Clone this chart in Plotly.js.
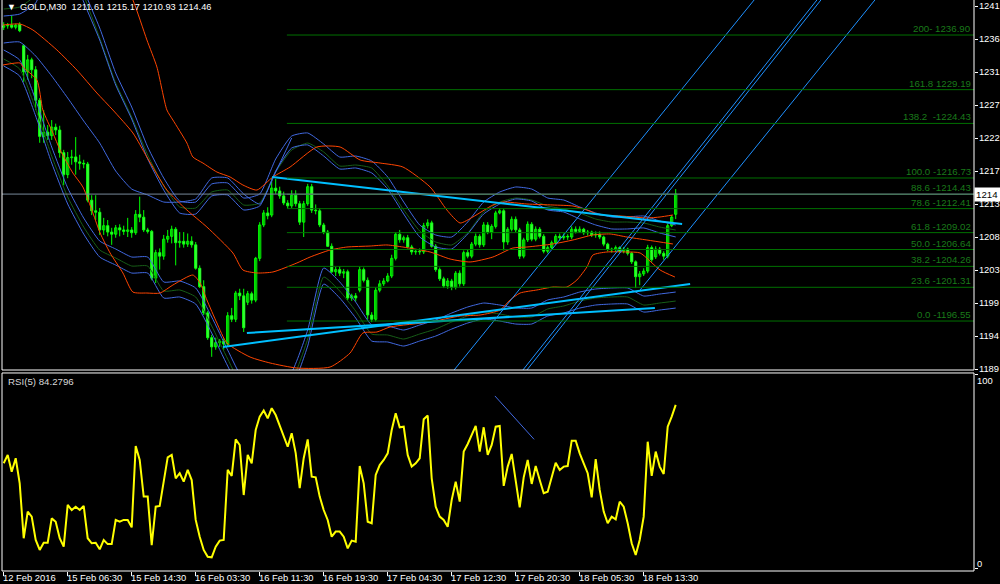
<!DOCTYPE html>
<html><head><meta charset="utf-8">
<script src="https://cdn.plot.ly/plotly-3.0.1.min.js"></script>
<style>html,body{margin:0;padding:0;background:#000;}#chart{width:1000px;height:584px;}</style>
</head><body><div id="chart"></div>
<script>
// ---- Candles (M30 bars, index 0..168) ----
const open=[1238.0,1238.2,1238.3,1238.0,1238.4,1235.4,1231.7,1233.4,1232.0,1227.7,
1222.6,1223.2,1222.7,1223.9,1223.5,1220.3,1217.2,1219.6,1219.7,1219.0,
1218.8,1218.7,1213.6,1212.1,1211.9,1209.4,1210.0,1209.1,1208.8,1209.7,
1209.4,1209.2,1209.4,1209.0,1211.6,1211.2,1209.4,1209.2,1202.6,1206.2,
1205.7,1208.1,1208.5,1209.5,1207.6,1207.8,1207.4,1207.8,1207.3,1204.0,
1201.4,1197.7,1194.2,1192.9,1193.5,1193.7,1193.3,1197.3,1196.8,1200.5,
1200.1,1199.2,1200.4,1199.5,1205.4,1210.1,1211.8,1211.5,1215.3,1214.9,
1214.2,1213.2,1212.8,1214.3,1213.1,1210.5,1213.1,1215.5,1212.2,1212.1,
1210.1,1209.1,1207.1,1203.5,1203.8,1203.3,1203.5,1199.8,1200.1,1200.9,
1203.8,1202.3,1197.4,1196.8,1200.9,1201.8,1202.2,1202.9,1205.4,1208.8,
1208.0,1208.3,1207.0,1206.3,1206.4,1206.3,1210.0,1210.4,1207.1,1203.8,
1202.5,1201.5,1202.2,1201.3,1203.3,1201.8,1206.2,1205.7,1207.4,1208.5,
1207.3,1210.1,1209.1,1209.9,1211.8,1212.1,1207.7,1209.5,1210.9,1209.4,
1205.7,1208.0,1210.2,1208.1,1209.5,1208.5,1206.4,1206.9,1207.6,1208.5,
1208.3,1208.5,1208.4,1209.5,1209.2,1209.5,1209.0,1209.1,1208.7,1208.8,
1208.4,1207.4,1206.7,1206.6,1206.9,1206.4,1206.7,1206.1,1204.9,1202.8,
1203.2,1203.6,1206.9,1205.6,1206.7,1206.1,1205.7,1210.0,1211.61];
const high=[1238.7,1238.6,1239.7,1238.5,1238.7,1235.6,1234.1,1233.7,1232.5,1228.0,
1226.3,1224.2,1224.9,1224.4,1224.1,1220.7,1220.4,1220.7,1222.5,1220.0,
1219.3,1219.0,1214.3,1214.3,1212.5,1211.1,1210.8,1209.7,1210.1,1210.2,
1210.0,1211.1,1209.8,1212.2,1214.1,1212.2,1209.7,1209.4,1206.6,1206.8,
1208.7,1209.4,1210.0,1209.8,1209.1,1209.1,1208.9,1208.5,1207.7,1204.4,
1202.3,1198.0,1194.6,1194.2,1194.0,1194.1,1197.8,1198.4,1200.8,1201.1,
1201.1,1200.8,1200.7,1205.6,1210.5,1212.2,1212.6,1216.7,1216.6,1215.5,
1214.8,1213.6,1215.0,1215.0,1213.5,1213.5,1215.9,1215.9,1213.0,1212.5,
1210.4,1209.4,1207.5,1204.2,1204.3,1203.9,1203.8,1200.4,1200.5,1204.2,
1204.1,1202.7,1197.8,1201.3,1202.3,1202.6,1203.3,1205.9,1209.1,1209.4,
1208.6,1208.7,1207.3,1206.7,1206.8,1210.4,1210.9,1210.7,1207.4,1204.1,
1202.8,1202.6,1202.5,1203.6,1203.7,1206.5,1206.6,1207.7,1208.9,1208.8,
1210.5,1210.5,1210.2,1212.1,1212.5,1212.4,1209.8,1211.3,1211.3,1209.7,
1208.3,1210.6,1210.5,1209.9,1209.8,1208.8,1207.2,1207.9,1208.8,1208.9,
1208.9,1208.8,1209.9,1209.9,1209.9,1209.7,1209.4,1209.3,1209.2,1209.2,
1208.6,1207.6,1206.9,1207.2,1207.1,1207.0,1206.9,1206.3,1205.1,1203.6,
1204.0,1207.3,1207.2,1207.1,1207.0,1206.4,1210.3,1211.5,1215.17];
const low=[1237.6,1237.8,1237.8,1237.7,1237.3,1230.3,1230.6,1230.8,1226.3,1221.7,
1221.7,1222.1,1222.1,1222.8,1219.6,1215.7,1216.7,1218.6,1217.2,1217.9,
1218.1,1213.3,1211.5,1210.8,1208.7,1208.7,1208.5,1207.3,1208.3,1208.5,
1208.7,1208.4,1208.3,1208.7,1210.5,1209.1,1208.9,1202.3,1201.9,1203.8,
1205.2,1207.6,1207.5,1204.4,1206.9,1206.9,1207.0,1206.9,1203.8,1201.2,
1197.4,1193.9,1191.5,1192.5,1192.9,1192.5,1193.0,1196.4,1196.4,1199.5,
1195.0,1198.8,1199.0,1199.2,1205.0,1209.8,1210.9,1211.2,1214.5,1213.8,
1212.9,1212.4,1212.5,1212.7,1210.1,1208.4,1212.8,1211.8,1211.6,1209.8,
1208.8,1207.0,1203.3,1202.9,1202.9,1202.6,1199.5,1199.4,1199.3,1200.6,
1202.0,1196.8,1196.4,1196.5,1200.6,1201.5,1202.0,1202.6,1205.1,1207.6,
1207.6,1206.8,1205.9,1205.9,1205.9,1206.0,1209.6,1206.9,1203.5,1202.2,
1201.2,1201.1,1200.9,1201.0,1201.4,1201.5,1205.4,1205.4,1207.1,1206.9,
1207.0,1208.8,1208.1,1209.6,1211.6,1206.5,1207.3,1209.2,1209.1,1205.3,
1205.4,1207.7,1207.8,1207.8,1208.2,1206.1,1206.1,1206.6,1207.3,1207.9,
1208.0,1208.0,1208.1,1208.9,1209.0,1208.7,1208.6,1208.4,1208.3,1208.1,
1207.1,1206.4,1206.2,1206.3,1206.2,1206.1,1205.8,1204.6,1201.2,1201.6,
1202.9,1203.3,1204.9,1205.3,1205.8,1205.2,1205.4,1209.8,1210.93];
const close=[1238.2,1238.3,1238.0,1238.3,1237.5,1231.7,1233.4,1232.0,1227.7,1222.6,
1223.2,1222.7,1223.9,1223.5,1220.3,1217.2,1219.6,1219.7,1219.0,1218.8,
1218.7,1213.6,1212.1,1211.9,1209.4,1210.0,1209.1,1208.8,1209.7,1209.4,
1209.2,1209.4,1209.0,1211.6,1211.2,1209.4,1209.2,1202.6,1206.2,1205.7,
1208.1,1208.5,1209.5,1207.6,1207.8,1207.4,1207.8,1207.3,1204.0,1201.4,
1197.7,1194.2,1192.9,1193.5,1193.7,1193.3,1197.3,1196.8,1200.5,1200.1,
1195.6,1200.4,1199.5,1205.4,1210.1,1211.8,1211.4,1215.3,1214.9,1214.2,
1213.2,1212.8,1214.3,1213.1,1210.5,1213.1,1215.5,1212.2,1212.1,1210.1,
1209.1,1207.1,1203.5,1203.8,1203.3,1203.5,1199.8,1200.1,1199.8,1203.8,
1202.3,1197.4,1196.8,1200.9,1201.8,1202.2,1202.9,1205.4,1208.8,1208.0,
1208.3,1207.0,1206.3,1206.4,1206.3,1210.0,1210.4,1207.1,1203.8,1202.5,
1201.5,1202.2,1201.3,1203.3,1201.8,1206.2,1205.7,1207.4,1208.5,1207.3,
1210.1,1209.1,1209.9,1211.8,1212.1,1207.7,1209.5,1210.9,1209.4,1205.7,
1208.0,1210.2,1208.1,1209.5,1208.5,1206.4,1206.9,1207.6,1208.5,1208.3,
1208.5,1208.4,1209.5,1209.2,1209.5,1209.0,1209.1,1208.7,1208.8,1208.4,
1207.4,1206.7,1206.6,1206.9,1206.4,1206.7,1206.1,1204.9,1202.8,1203.2,
1203.6,1206.9,1205.2,1206.7,1206.1,1205.7,1210.0,1211.2,1214.46];

// ---- RSI(5) ----
const rsi=[54.3,58.6,50.0,56.9,44.0,15.8,29.5,26.9,14.9,9.8,
13.5,13.5,26.0,24.3,15.8,11.5,32.9,30.3,32.0,30.3,
32.4,15.8,13.2,13.5,10.1,14.9,12.8,12.8,25.2,24.3,
25.2,25.2,21.4,63.2,56.0,37.2,37.2,12.3,32.0,32.4,
44.9,57.4,58.6,46.6,49.2,44.9,50.9,45.7,25.2,16.6,
9.8,6.3,6.0,11.5,14.6,14.9,50.9,47.8,66.6,63.7,
38.0,58.6,54.3,71.4,78.3,81.4,77.4,82.6,79.1,74.0,
68.0,62.8,69.7,59.5,41.5,56.9,66.6,47.4,47.1,37.2,
30.3,25.2,16.6,19.2,19.2,16.6,10.6,14.6,14.0,52.9,
44.0,24.3,23.5,48.3,53.4,56.0,59.4,71.4,80.0,72.8,
73.1,58.6,52.6,54.3,56.9,76.9,78.8,46.6,32.0,26.9,
25.2,21.7,35.5,44.9,34.6,60.3,64.2,68.9,73.5,60.3,
72.8,58.6,63.7,73.1,73.5,42.7,52.6,59.1,45.7,31.7,
47.1,56.0,43.7,52.9,45.7,38.9,39.7,47.4,54.6,50.9,
52.6,52.9,65.9,65.9,59.4,54.3,49.2,36.8,56.4,40.6,
29.5,23.5,26.9,25.5,34.6,32.0,23.5,13.2,7.2,14.9,
26.9,65.4,47.8,60.3,52.6,48.8,73.1,78.3,84.2796];

const orUpIdx=[27.8,32.3,35.8,38.3,40.8,42.3,45.8,47.3,49.8,53.3,56.6,59.8,63.3,67.3,71.6,78.3,84.1,89.1,94.1,99.8,106.6,110.8,114.1,117.3,122.3,124.8,130.8,137.3,142.3,145.8,149.1,154.1,157.3,160.8,164.1,167.3];
const orUp=[1246.78,1241.84,1236.20,1232.39,1226.32,1224.91,1221.66,1219.69,1218.84,1217.57,1216.87,1215.74,1215.03,1216.87,1218.28,1221.10,1221.10,1219.27,1218.84,1218.28,1215.46,1212.21,1210.38,1211.23,1212.92,1213.34,1213.06,1212.92,1212.78,1212.21,1211.51,1211.37,1211.23,1211.08,1211.23,1211.51];
const orMidIdx=[-0.2,4.1,7.3,13.3,18.3,23.3,27.3,32.3,35.8,40.8,45.8,50.8,57.3,59.8,63.3,67.3,73.3,76.6,81.6,85.8,91.6,95.8,99.8,106.6,111.6,116.6,122.3,127.3,130.8,137.3,142.3,147.3,151.6,155.8,160.8,167.3];
const orMid=[1238.31,1238.45,1237.61,1234.79,1231.96,1228.72,1226.32,1223.08,1219.69,1215.03,1212.21,1209.81,1206.15,1203.75,1203.33,1203.47,1204.74,1205.58,1206.57,1206.99,1207.13,1207.28,1206.99,1206.29,1205.30,1204.88,1205.58,1206.85,1206.99,1207.42,1207.98,1208.69,1208.83,1208.40,1207.98,1207.42];
const orLowIdx=[-0.2,4.1,4.8,8.3,9.8,12.3,14.1,17.3,19.8,22.3,24.1,26.6,29.8,32.3,35.8,39.1,42.3,47.3,49.1,50.8,53.3,55.8,61.6,66.6,73.3,81.6,86.6,89.8,93.3,96.6,106.6,114.1,119.1,124.1,126.6,129.1,133.3,137.3,140.8,143.3,145.8,147.3,150.8,155.8,159.1,164.1,167.8];
const orLow=[1232.67,1232.95,1232.39,1230.55,1226.32,1223.08,1220.68,1217.43,1215.46,1211.79,1208.97,1206.15,1203.33,1200.64,1200.50,1200.50,1201.63,1203.04,1201.91,1199.52,1196.27,1193.45,1191.47,1190.63,1189.92,1190.06,1192.04,1194.86,1195.00,1195.71,1196.41,1197.26,1197.40,1198.10,1199.52,1200.50,1200.93,1201.35,1201.35,1202.34,1204.17,1205.86,1206.29,1206.29,1206.15,1203.75,1202.76];

// ---- Blue / dark-green bands (read every 4 bars) ----
const bandIdx=[0,4,8,12,16,20,24,28,32,36,40,44,48,52,56,60,64,68,72,76,80,84,88,92,96,100,104,108,112,116,120,124,128,132,136,140,144,148,152,156,160,164,168];
const blueUp=[1239.58,1239.86,1241.42,1247.48,1248.89,1243.25,1237.89,1231.54,1226.74,1221.10,1216.73,1213.48,1213.34,1215.88,1216.02,1213.91,1214.47,1219.41,1222.65,1223.08,1221.52,1219.69,1219.83,1219.13,1216.87,1213.34,1210.10,1208.69,1208.40,1210.52,1213.34,1214.75,1215.46,1215.17,1213.91,1213.62,1212.64,1211.79,1211.23,1211.23,1211.37,1210.66,1210.10];
const greenUp=[1240.57,1240.85,1242.55,1247.48,1248.89,1242.55,1236.48,1230.13,1225.33,1219.97,1215.60,1212.64,1212.49,1214.75,1215.03,1212.92,1213.20,1217.57,1220.68,1221.66,1220.40,1218.42,1218.56,1218.14,1215.60,1212.21,1209.25,1207.70,1207.28,1208.97,1211.93,1213.34,1213.91,1213.62,1212.78,1212.35,1211.79,1210.94,1210.52,1210.52,1210.38,1209.81,1209.39];
const blueUp2=[null,null,null,1245.79,1247.20,1241.56,1236.20,1229.85,1225.05,1219.41,1215.04,1211.79,1211.65,1214.19,1214.33,1212.22,1212.78,1217.72,1220.96,1221.39,1219.83,1218.00,1218.14,1217.44,1215.18,1211.65,1208.41,1207.00,1206.71,1208.83,1211.65,1213.06,1213.77,1213.48,1212.22,1211.93,1210.95,1210.10,1209.54,1209.54,1209.68,1208.97,1208.41];
const blueMid=[1235.77,1235.91,1233.94,1231.12,1228.01,1224.77,1221.66,1217.71,1215.17,1214.33,1213.34,1213.34,1213.77,1216.73,1216.73,1214.47,1213.06,1217.57,1222.37,null,null,null,null,null,null,null,null,null,null,null,null,null,null,null,null,null,null,null,null,null,null,null,null];
const blueLow=[1234.79,1233.37,1227.73,1221.10,1215.32,1211.08,1207.84,1206.71,1205.58,1205.58,1202.06,1202.20,1201.21,1197.12,1192.46,1188.23,1187.52,1187.52,1189.36,1195.28,1204.03,1202.06,1199.23,1195.99,1195.85,1195.28,1195.99,1196.69,1197.68,1198.53,1199.09,1198.81,1198.39,1198.39,1199.52,1199.94,1200.64,1201.07,1201.21,1201.21,1200.08,1200.36,1200.64];
const greenLow=[1233.52,1232.10,1226.46,1219.83,1214.05,1209.81,1206.57,1205.44,1204.31,1204.31,1200.79,1200.93,1199.94,1195.85,1191.19,1186.96,1186.25,1186.25,1188.09,1194.01,1202.76,1200.79,1197.96,1194.72,1194.58,1194.01,1194.72,1195.42,1196.41,1197.26,1197.82,1197.54,1197.12,1197.12,1198.25,1198.67,1199.37,1199.80,1199.94,1199.94,1198.81,1199.09,1199.37];
const blueLow2=[1232.53,1231.11,1225.47,1218.84,1213.06,1208.82,1205.58,1204.45,1203.32,1203.32,1199.80,1199.94,1198.95,1194.86,1190.20,1185.97,1185.26,1185.26,1187.10,1193.02,1201.77,1199.80,1196.97,1193.73,1193.59,1193.02,1193.73,1194.43,1195.42,1196.27,1196.83,1196.55,1196.13,1196.13,1197.26,1197.68,1198.38,1198.81,1198.95,1198.95,1197.82,1198.10,1198.38];

// ---- Fibonacci levels ----
const fibStartIdx=70.8;
const fibPrices=[1196.55,1201.31,1204.26,1206.64,1209.02,1212.41,1214.43,1216.73,1224.43,1229.19,1236.90];
const fibLabels=['0.0 -1196.55','23.6 -1201.31','38.2 -1204.26','50.0 -1206.64','61.8 -1209.02','78.6 -1212.41','88.6 -1214.43','100.0 -1216.73','138.2  -1224.43','161.8 1229.19','200- 1236.90'];

// ---- Trend lines (cyan) and channel lines (blue): [idx0, price0, idx1, price1] ----
const trendLines=[[67.1,1216.87,169.6,1210.24],[54.8,1192.88,171.6,1201.77],[60.8,1194.86,162.8,1198.39]];
const channelLines=[[112.6,1189.64,187.6,1241.84],[129.8,1189.64,203.3,1241.84],[130.8,1189.64,204.3,1241.84],[159.1,1200.93,217.8,1241.84]];
const rsiLine=[122.8,88.9,132.6,66.6];

// ---- Axis labels ----
const timeLabelIdx=[0,16,32,48,64,80,96,112,128,144,160];
const timeLabels=['12 Feb 2016','15 Feb 06:30','15 Feb 14:30','16 Feb 03:30','16 Feb 11:30','16 Feb 19:30','17 Feb 04:30','17 Feb 12:30','17 Feb 20:30','18 Feb 05:30','18 Feb 13:30'];
const priceTicks=[1240.99,1236.33,1231.68,1227.02,1222.37,1217.71,1213.06,1208.40,1203.74,1199.09,1194.43,1189.78];
const priceTickText=['1241','1236','1231','1227','1222','1217','1213','1208','1203','1199','1194','1189'];
const rsiTicks=[100,0];
const lastPrice=1214.46;
const header='GOLD,M30  1211.61 1215.17 1210.93 1214.46';
const rsiTitle='RSI(5) 84.2796';

const FONT='Liberation Sans';
const FS=9.4;
const idx=close.map((_,i)=>i);
const traces=[];
const wx=[],wy=[];
idx.forEach(i=>{wx.push(i,i,null);wy.push(low[i],high[i],null);});
traces.push({type:'scatter',mode:'lines',x:wx,y:wy,line:{color:'#00ff00',width:1},xaxis:'x',yaxis:'y',hoverinfo:'skip'});
traces.push({type:'bar',x:idx,base:idx.map(i=>Math.min(open[i],close[i])),
  y:idx.map(i=>Math.max(Math.abs(close[i]-open[i]),0.06)),width:0.55,
  marker:{color:idx.map(i=>close[i]>=open[i]?'#000000':'#ffffff'),line:{color:'#00ff00',width:1}},xaxis:'x',yaxis:'y',hoverinfo:'skip'});
function band(ys,color){traces.push({type:'scatter',mode:'lines',x:bandIdx,y:ys,connectgaps:false,line:{color:color,width:1,shape:'spline',smoothing:0.5},xaxis:'x',yaxis:'y',hoverinfo:'skip'});}
band(greenUp,'#175e17');band(greenLow,'#175e17');
band(blueUp,'#4169e1');band(blueUp2,'#4169e1');band(blueMid,'#4169e1');band(blueLow,'#4169e1');band(blueLow2,'#4169e1');
[[orUpIdx,orUp],[orMidIdx,orMid],[orLowIdx,orLow]].forEach(([xs,ys])=>{
  traces.push({type:'scatter',mode:'lines',x:xs,y:ys,line:{color:'#ff4500',width:1,shape:'spline',smoothing:0.6},xaxis:'x',yaxis:'y',hoverinfo:'skip'});
});
trendLines.forEach(t=>traces.push({type:'scatter',mode:'lines',x:[t[0],t[2]],y:[t[1],t[3]],line:{color:'#00bfff',width:2},xaxis:'x',yaxis:'y',hoverinfo:'skip'}));
channelLines.forEach(t=>traces.push({type:'scatter',mode:'lines',x:[t[0],t[2]],y:[t[1],t[3]],line:{color:'#1e90ff',width:1},xaxis:'x',yaxis:'y',hoverinfo:'skip'}));
traces.push({type:'scatter',mode:'lines',x:idx,y:rsi,line:{color:'#ffff00',width:2},xaxis:'x',yaxis:'y2',hoverinfo:'skip'});
traces.push({type:'scatter',mode:'lines',x:[rsiLine[0],rsiLine[2]],y:[rsiLine[1],rsiLine[3]],line:{color:'#4169e1',width:1},xaxis:'x',yaxis:'y2',hoverinfo:'skip'});

const shapes=[];
fibPrices.forEach(p=>shapes.push({type:'line',xref:'x',yref:'y',x0:fibStartIdx,x1:242.575,y0:p,y1:p,line:{color:'#007000',width:1}}));
shapes.push({type:'line',xref:'paper',yref:'y',x0:0,x1:1,y0:lastPrice,y1:lastPrice,line:{color:'#778899',width:1}});
shapes.push({type:'rect',xref:'paper',yref:'paper',x0:0,x1:1,y0:0.352,y1:1.002,line:{color:'#ffffff',width:1}});
shapes.push({type:'rect',xref:'paper',yref:'paper',x0:0,x1:1,y0:0,y1:0.3468,line:{color:'#ffffff',width:1}});

const annotations=[];
fibPrices.forEach((p,k)=>annotations.push({xref:'paper',yref:'y',x:0.998,y:p,xanchor:'right',yanchor:'bottom',text:fibLabels[k],showarrow:false,font:{family:FONT,size:FS+0.3,color:'#1a7a1a'},borderpad:0}));
timeLabelIdx.forEach((v,k)=>annotations.push({xref:'x',yref:'paper',x:v,y:0,xanchor:'left',yanchor:'middle',yshift:-6.5,xshift:-2,text:timeLabels[k],showarrow:false,font:{family:FONT,size:FS,color:'#ffffff'},borderpad:0}));
annotations.push({xref:'paper',yref:'paper',x:0.003,y:1,xanchor:'left',yanchor:'top',text:'\u25BC',showarrow:false,font:{family:FONT,size:9,color:'#ffffff'}});
annotations.push({xref:'paper',yref:'paper',x:0.0165,y:1,xanchor:'left',yanchor:'top',text:header,showarrow:false,font:{family:FONT,size:9.2,color:'#ffffff'},borderpad:1});
annotations.push({xref:'paper',yref:'paper',x:0.004,y:0.331,xanchor:'left',yanchor:'middle',text:rsiTitle,showarrow:false,font:{family:FONT,size:FS+0.3,color:'#d8d8d8'}});
annotations.push({xref:'paper',yref:'y',x:1,y:lastPrice,xanchor:'left',yanchor:'middle',text:'1214',showarrow:false,bgcolor:'#ffffff',font:{family:FONT,size:FS+0.3,color:'#000000'},borderpad:1,width:24,align:'left'});
rsiTicks.forEach(v=>annotations.push({xref:'paper',yref:'y2',x:1,y:v,xanchor:'left',yanchor:v===100?'top':'bottom',xshift:2,yshift:v===100?0:-1,text:String(v),showarrow:false,font:{family:FONT,size:FS,color:'#ffffff'},borderpad:0}));

const layout={width:1000,height:584,paper_bgcolor:'#000000',plot_bgcolor:'#000000',
 margin:{l:2,r:26,t:0,b:13},showlegend:false,hovermode:false,bargap:0,
 xaxis:{range:[-0.425,242.575],anchor:'y2',showgrid:false,zeroline:false,showline:false,ticks:'outside',ticklen:4,tickcolor:'#ffffff',tickvals:timeLabelIdx,showticklabels:false,fixedrange:true},
 yaxis:{domain:[0.352,1],range:[1189.64,1241.84],side:'right',anchor:'x',showgrid:false,zeroline:false,showline:false,tickvals:priceTicks,ticktext:priceTickText,ticks:'outside',ticklen:3,tickcolor:'#ffffff',ticklabelstandoff:-1,tickfont:{family:FONT,size:FS,color:'#ffffff'},fixedrange:true},
 yaxis2:{domain:[0,0.3468],range:[-1.03,100.7],side:'right',anchor:'x',showgrid:false,zeroline:false,showline:false,tickvals:rsiTicks,showticklabels:false,ticks:'outside',ticklen:3,tickcolor:'#ffffff',fixedrange:true},
 shapes:shapes,annotations:annotations};
Plotly.newPlot('chart',traces,layout,{staticPlot:true,displayModeBar:false});
</script></body></html>
